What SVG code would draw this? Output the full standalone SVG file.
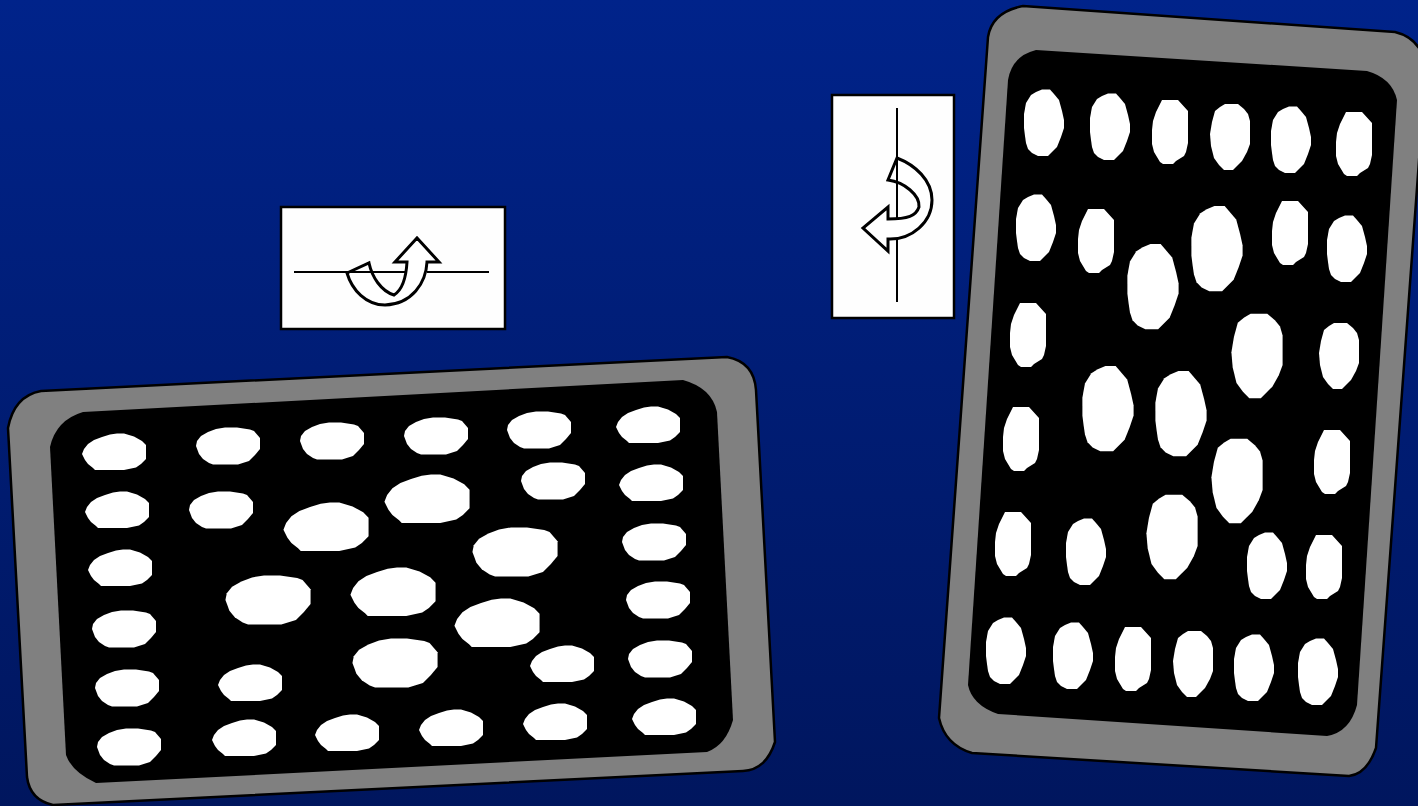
<svg xmlns="http://www.w3.org/2000/svg" width="1418" height="806" viewBox="0 0 1418 806">
<style>
.tray{fill:#808080;stroke:#000;stroke-width:2.5;stroke-linejoin:round}
.well{fill:#000}
.b{fill:#fff}
.panel{fill:#fefefe;stroke:#000;stroke-width:2.5}
.axis{stroke:#000;stroke-width:2;fill:none}
.arrow{fill:#fff;stroke:#000;stroke-width:3;stroke-linejoin:miter}
</style>
<defs>
<linearGradient id="bg" x1="0" y1="0" x2="0" y2="1"><stop offset="0" stop-color="#00238a"/><stop offset="1" stop-color="#00165e"/></linearGradient>
<polygon id="h1" class="b" points="-32,2 -30,-3 -26,-8 -20,-12 -12,-15 -4,-17.5 3,-18.5 10,-18.5 20,-15.5 28,-11 32,-7 32,7 27,12 22,15.5 10,18 -19,18 -21,16 -26,12 -29,8"/>
<polygon id="h2" class="b" points="-32,0 -31,-5 -27,-10 -20,-14 -12,-17 -3,-18.5 9,-18.5 22,-16.5 26,-15 32,-8 32,3 27,9 21,15 10,18.5 -15,18.5 -19,17 -25,13 -29,8"/>
<polygon id="v1" class="b" points="-20,-3 -20,-9 -18,-20 -13,-28 -8,-31 -2,-33.5 6,-33.5 10,-29 15,-23 18,-12 20,-3 20,5 17,14 13,24 4,33 -6,33 -12,30 -16,26 -18,20 -19,13 -20,5"/>
<polygon id="v2" class="b" points="-18,-2 -17,-11 -14,-20 -8,-32 8,-32 18,-21 18,11 16,20 14,24 6,29 3,32 -7,32 -10,30 -16,20 -18,12"/>
<polygon id="v3" class="b" points="-20,-3 -18,-15 -15,-26 -10,-30 -5,-33 3,-33 8,-33 14,-28 18,-23 20,-16 20,7 17,15 12,24 3,33 -6,33 -11,28 -16,21 -19,9"/>
</defs>
<rect width="1418" height="806" fill="url(#bg)"/>
<g id="tray-left">
<path class="tray" d="M41,391L727,357Q754,362 756,390L775,742Q766,770 743,771L53,805Q30,800 27,777L8,428Q14,396 41,391Z"/>
<path class="well" d="M83,412L683,380Q712,388 717,412L733,720Q726,745 707,752L96,783Q72,772 66,755L50,447Q56,420 83,412Z"/>
<use href="#h1" x="114" y="452"/><use href="#h2" x="228" y="446"/><use href="#h2" x="332" y="441"/><use href="#h2" x="436" y="436"/><use href="#h2" x="539" y="430"/><use href="#h1" x="648" y="425"/>
<use href="#h1" x="117" y="510"/><use href="#h2" x="221" y="510"/><use href="#h1" transform="translate(326 527) scale(1.33)"/><use href="#h1" transform="translate(427 499) scale(1.33)"/><use href="#h2" x="553" y="481"/><use href="#h1" x="651" y="483"/>
<use href="#h1" x="120" y="568"/><use href="#h2" transform="translate(268 600) scale(1.33)"/><use href="#h1" transform="translate(393 592) scale(1.33)"/><use href="#h2" transform="translate(515 552) scale(1.33)"/><use href="#h2" x="654" y="542"/>
<use href="#h2" x="124" y="629"/><use href="#h1" transform="translate(497 623) scale(1.33)"/><use href="#h2" x="658" y="600"/>
<use href="#h2" x="127" y="688"/><use href="#h1" x="250" y="683"/><use href="#h2" transform="translate(395 663) scale(1.33)"/><use href="#h1" x="562" y="664"/><use href="#h2" x="660" y="659"/>
<use href="#h2" x="129" y="747"/><use href="#h1" x="244" y="738"/><use href="#h1" x="347" y="733"/><use href="#h1" x="451" y="728"/><use href="#h1" x="555" y="722"/><use href="#h1" x="664" y="717"/>
</g>
<g id="tray-right">
<path class="tray" d="M1023,6L1395,32Q1420,38 1426,65L1376,748Q1367,774 1349,776L972,753Q945,745 939,718L988,37Q992,12 1023,6Z"/>
<path class="well" d="M1036,50L1367,71Q1392,78 1397,100L1357,705Q1350,732 1327,736L998,714Q972,705 968,685L1008,80Q1012,56 1036,50Z"/>
<use href="#v1" x="1044" y="123"/><use href="#v1" x="1110" y="127"/><use href="#v2" x="1170" y="132"/><use href="#v3" x="1230" y="137"/><use href="#v1" x="1291" y="140"/><use href="#v2" x="1354" y="144"/>
<use href="#v1" x="1036" y="228"/><use href="#v2" x="1096" y="241"/><use href="#v1" transform="translate(1153 287) scale(1.28)"/><use href="#v1" transform="translate(1217 249) scale(1.28)"/><use href="#v2" x="1290" y="233"/><use href="#v1" x="1347" y="249"/>
<use href="#v2" x="1028" y="335"/><use href="#v3" transform="translate(1257 356) scale(1.28)"/><use href="#v3" x="1339" y="356"/>
<use href="#v2" x="1021" y="439"/><use href="#v1" transform="translate(1108 409) scale(1.28)"/><use href="#v1" transform="translate(1181 414) scale(1.28)"/><use href="#v3" transform="translate(1237 481) scale(1.28)"/><use href="#v2" x="1332" y="462"/>
<use href="#v2" x="1013" y="544"/><use href="#v1" x="1086" y="552"/><use href="#v3" transform="translate(1172 537) scale(1.28)"/><use href="#v1" x="1267" y="566"/><use href="#v2" x="1324" y="567"/>
<use href="#v1" x="1006" y="651"/><use href="#v1" x="1073" y="656"/><use href="#v2" x="1133" y="659"/><use href="#v3" x="1193" y="664"/><use href="#v1" x="1254" y="668"/><use href="#v1" x="1318" y="672"/>
</g>
<g id="panel-horizontal">
<rect class="panel" x="281" y="207" width="224" height="122"/>
<path class="arrow" d="M347,273L369,263C372,277 381,291 394,295C402,290 406,280 407,262L395,262L417,238L439,262L427,262C426,283 412,304 385,305C366,305 352,290 347,273Z"/>
<path class="axis" d="M294,272H407M427,272H489"/>
</g>
<g id="panel-vertical">
<rect class="panel" x="832" y="95" width="122" height="223"/>
<path class="arrow" d="M897,158L888,180C904,182 920,195 919,207C916,216 908,219 888,219L888,207L863,228L888,251L888,239C912,240 932,222 932,200C932,180 915,165 897,158Z"/>
<path class="axis" d="M897,108V219M897,239V302"/>
</g>
<g id="connectors"/>
</svg>
